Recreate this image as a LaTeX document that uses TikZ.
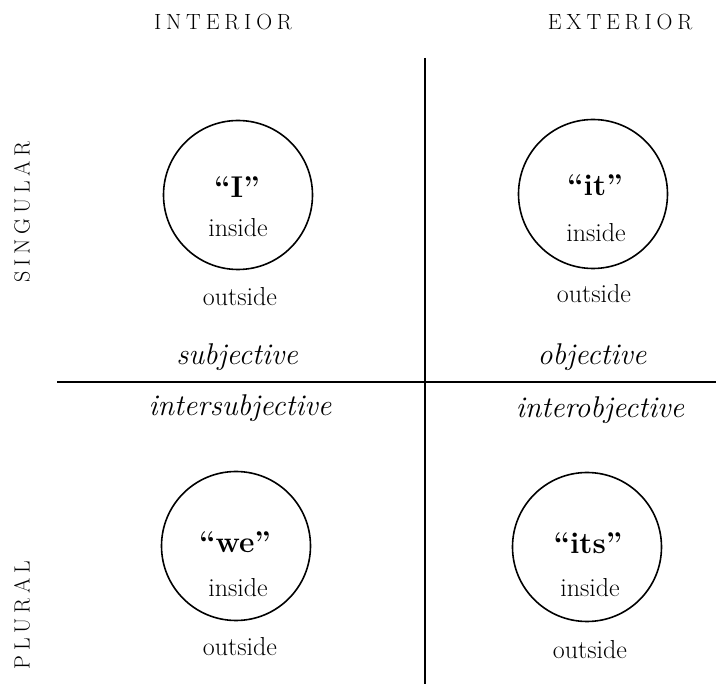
\documentclass[tikz,border=0pt]{standalone}
\usepackage{fontspec}
\setmainfont{Latin Modern Roman}
\begin{document}
\begin{tikzpicture}[x=1pt,y=-1pt,
  heading/.style={font=\fontsize{22}{26}\selectfont\addfontfeature{LetterSpace=22}, inner sep=0pt},
  side/.style={heading, rotate=90},
  ring/.style={circle, draw, line width=1.6pt, minimum size=149pt, inner sep=0pt},
  quote/.style={font=\fontsize{30}{34}\selectfont\bfseries, inner sep=0pt},
  plain/.style={font=\fontsize{26}{30}\selectfont, inner sep=0pt},
  kind/.style={font=\fontsize{30}{34}\selectfont\itshape, inner sep=0pt},
  rule/.style={line width=1.5pt}]
\useasboundingbox (0,0) rectangle (716,684);
% headings
\node[heading] (hdI) at (223,22) {INTERIOR};
\node[heading] (hdE) at (620,22) {EXTERIOR};
\node[side] (sing) at (22,212) {SINGULAR};
\node[side] (plur) at (22,615) {PLURAL};
% axes
\coordinate (vt) at (425,58);
\coordinate (vb) at (425,684);
\coordinate (hl) at (57,382);
\coordinate (hr) at (716,382);
\draw[rule] (vt) -- (vb);
\draw[rule] (hl) -- (hr);
% circles
\node[ring] (c1) at (238,195) {};
\node[ring] (c2) at (593,194) {};
\node[ring] (c3) at (236,546) {};
\node[ring] (c4) at (587,547) {};
% quadrant texts
\node[quote] (q1) at (237,187) {“I”};
\node[plain] (i1) at (238,228) {inside};
\node[plain] (o1) at (240,297) {outside};
\node[quote] (q2) at (595,185) {“it”};
\node[plain] (i2) at (596,233) {inside};
\node[plain] (o2) at (594,294) {outside};
\node[quote] (q3) at (235,542) {“we”};
\node[plain] (i3) at (238,588) {inside};
\node[plain] (o3) at (240,647) {outside};
\node[quote] (q4) at (588,543) {“its”};
\node[plain] (i4) at (590,588) {inside};
\node[plain] (o4) at (590,650) {outside};
% italic labels
\node[kind] (k1) at (237,357) {subjective};
\node[kind] (k2) at (592,357) {objective};
\node[kind] (k3) at (240,408) {intersubjective};
\node[kind] (k4) at (600,410) {interobjective};
\end{tikzpicture}
\end{document}
